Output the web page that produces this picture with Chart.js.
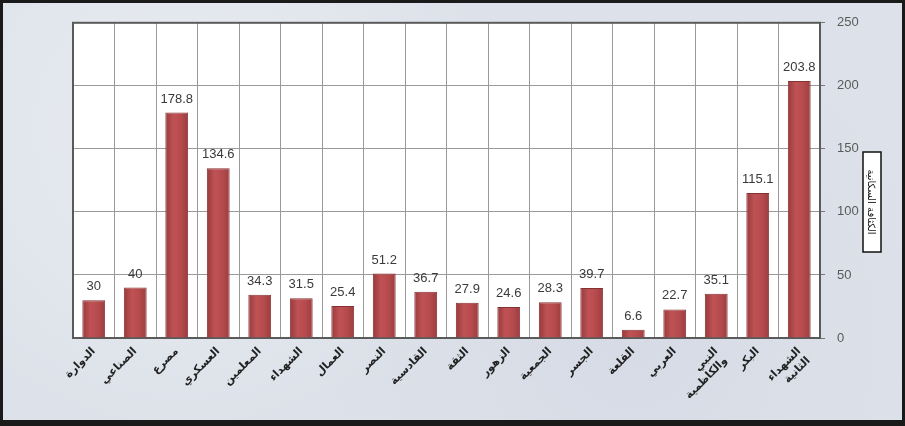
<!DOCTYPE html>
<html><head><meta charset="utf-8">
<script src="https://cdn.jsdelivr.net/npm/chart.js@4"></script>
<style>
html,body{margin:0;padding:0;}
body{width:905px;height:426px;overflow:hidden;background:#dfe4ec;}
#wrap{position:absolute;left:0;top:0;width:899px;height:417px;border:3px solid #1a1a1a;border-bottom-width:6px;
background:
 radial-gradient(circle at 20% 30%, rgba(255,255,255,0.35), rgba(255,255,255,0) 40%),
 radial-gradient(circle at 70% 80%, rgba(200,205,220,0.35), rgba(255,255,255,0) 45%),
 #dde2ea;}
canvas{position:absolute;left:0;top:0;}
</style></head>
<body><div id="wrap"><canvas id="c" width="899" height="417"></canvas></div>
<script>
const categories = [
  "الدوارة","الصناعي","مصرع","العسكري","المعلمين","الشهداء","العمال","النصر","القادسية",
  "الثقة","الزهور","الجمعية","الجسر","القلعة","العربي",["النبي","والكاظمية"],"البكر",["الشهداء","الثانية"]
];
const densityValues = [30,40,178.8,134.6,34.3,31.5,25.4,51.2,36.7,27.9,24.6,28.3,39.7,6.6,22.7,35.1,115.1,203.8];
const yTicks = [0,50,100,150,200,250];
const axisTitle = "الكثافة السكانية";

const frame = {
  id:'frame',
  beforeDraw(chart){
    const a = chart.chartArea, ctx = chart.ctx;
    ctx.save();
    ctx.fillStyle = '#ffffff';
    ctx.fillRect(a.left, a.top, a.right-a.left, a.bottom-a.top);
    ctx.restore();
  },
  beforeDatasetsDraw(chart){
    const a = chart.chartArea, ctx = chart.ctx;
    ctx.save();
    ctx.strokeStyle = '#5a5a5a';
    ctx.lineWidth = 2;
    ctx.strokeRect(a.left, a.top, a.right-a.left, a.bottom-a.top);
    ctx.restore();
  },
  afterDatasetsDraw(chart){
    const ctx = chart.ctx, meta = chart.getDatasetMeta(0);
    ctx.save();
    ctx.font = '13px "Liberation Sans", Arial, sans-serif';
    ctx.fillStyle = '#3a3a3a';
    ctx.textAlign = 'center';
    ctx.textBaseline = 'bottom';
    meta.data.forEach((bar,i)=>{
      ctx.fillText(String(densityValues[i]), bar.x, bar.y - 7);
    });
    const cx = 869, cy = 199;
    ctx.translate(cx, cy);
    ctx.rotate(Math.PI/2);
    ctx.font = '10px "DejaVu Sans", sans-serif';
    const w = 100, h = 18;
    ctx.fillStyle = '#ffffff';
    ctx.fillRect(-w/2, -h/2, w, h);
    ctx.strokeStyle = '#111';
    ctx.lineWidth = 1.5;
    ctx.strokeRect(-w/2, -h/2, w, h);
    ctx.fillStyle = '#111';
    ctx.textBaseline = 'middle';
    ctx.fillText(axisTitle, 0, 1);
    ctx.restore();
  }
};

function barFill(context){
  const chart = context.chart, xs = chart.scales.x;
  if (!xs || xs.width === undefined || !chart.chartArea) return '#b2474a';
  const cx = xs.getPixelForValue(context.dataIndex);
  const half = xs.width / categories.length * 0.55 / 2;
  const g = chart.ctx.createLinearGradient(cx-half, 0, cx+half, 0);
  g.addColorStop(0, '#973a3c');
  g.addColorStop(0.35, '#bf5254');
  g.addColorStop(0.7, '#b54a4c');
  g.addColorStop(1, '#9a3d3f');
  return g;
}

new Chart(document.getElementById('c'), {
  type:'bar',
  data:{ labels:categories, datasets:[{
    data:densityValues,
    backgroundColor:barFill,
    borderColor:'#863133',
    borderWidth:1,
    barPercentage:0.55,
    categoryPercentage:1
  }]},
  options:{
    responsive:false, animation:false,
    layout:{padding:{left:70,top:19,right:0,bottom:0}},
    plugins:{legend:{display:false}, tooltip:{enabled:false}},
    scales:{
      x:{
        grid:{color:'#9a9a9a', lineWidth:1, offset:true, drawTicks:false},
        border:{display:false},
        ticks:{autoSkip:false, maxRotation:45, minRotation:45, padding:7,
          color:'#222', font:{size:11, weight:'bold', family:'"DejaVu Sans", sans-serif'}},
        afterFit(s){ s.height = 417 - 335; }
      },
      y:{
        position:'right', min:0, max:250,
        afterBuildTicks(s){ s.ticks = yTicks.map(v=>({value:v})); },
        grid:{color:'#9a9a9a', lineWidth:1, drawTicks:true, tickLength:5, tickColor:'#777'},
        border:{display:true, color:'#5a5a5a', width:2},
        ticks:{padding:12, color:'#5a5a5a', font:{size:13, family:'"Liberation Sans", Arial, sans-serif'}},
        afterFit(s){ s.width = 899 - 817; }
      }
    }
  },
  plugins:[frame]
});
</script>
</body></html>
